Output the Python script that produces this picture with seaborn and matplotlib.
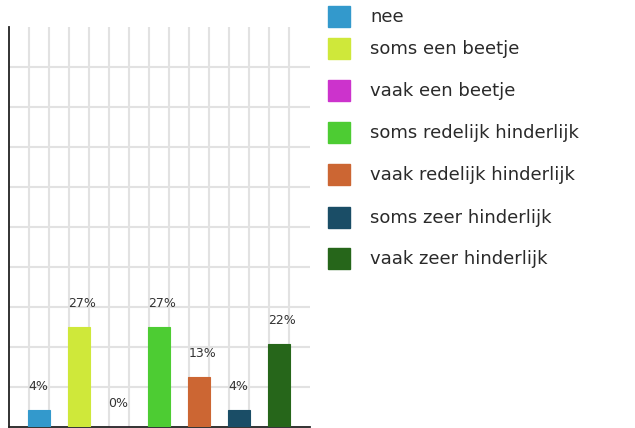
import matplotlib
matplotlib.use("Agg")
import matplotlib.pyplot as plt
import seaborn as sns
import numpy as np
import pandas as pd
from matplotlib.patches import Rectangle

# answers (counts of respondents) per category
categories = ['nee', 'soms een beetje', 'vaak een beetje', 'soms redelijk hinderlijk',
              'vaak redelijk hinderlijk', 'soms zeer hinderlijk', 'vaak zeer hinderlijk']
counts = [1, 6, 0, 6, 3, 1, 5]
colors = ['#3399cc', '#cfe83a', '#cc33cc', '#4dcc33', '#cc6633', '#1a4d66', '#26661a']

total = sum(counts)
pct_labels = [f'{int(c * 100 / total)}%' for c in counts]

df = pd.DataFrame({'cat': categories, 'n': counts})

sns.set_style('white')
plt.rcParams['font.family'] = ['DejaVu Sans']

W, H = 635, 428
fig = plt.figure(figsize=(W / 100, H / 100), dpi=100)
ax = fig.add_axes([9 / W, 1 / H, 301 / W, 400 / H])

sns.barplot(data=df, x='cat', y='n', hue='cat', palette=colors, width=0.53,
            legend=False, ax=ax, saturation=1, linewidth=0.8)
# outline each bar in its own colour so the 0% bar still shows as a thin line
for bar, col in zip(ax.patches, colors):
    bar.set_edgecolor(col)
    bar.set_zorder(3)

ax.set_xlim(-0.75, 6.775)
ax.set_ylim(0, 24)

# grid
for k in range(14):
    ax.axvline(-0.25 + 0.5 * k, color='#e2e2e2', lw=1.5, zorder=0)
for k in range(1, 10):
    ax.axhline(2.4 * k, color='#e2e2e2', lw=1.5, zorder=0)

for bar, lab in zip(ax.patches, pct_labels):
    ax.annotate(lab, (bar.get_x(), bar.get_height()), xytext=(0, 20),
                textcoords='offset pixels', ha='left', va='baseline',
                fontsize=9, color='#333333')

sns.despine(ax=ax, top=True, right=True)
for s in ['left', 'bottom']:
    ax.spines[s].set_color('#222222')
    ax.spines[s].set_linewidth(1.3)
ax.set_xticks([])
ax.set_yticks([])
ax.set_xlabel('')
ax.set_ylabel('')

# legend drawn by hand
row_tops = [6, 38, 80, 122, 164, 207, 248]
for top, lab, col in zip(row_tops, categories, colors):
    fig.patches.append(Rectangle((328 / W, 1 - (top + 21) / H), 22 / W, 21 / H,
                                 transform=fig.transFigure, color=col))
    fig.text(370 / W, 1 - (top + 11) / H, lab, va='center', ha='left',
             fontsize=13, color='#2a2a2a')

fig.savefig('out.png', dpi=100)
